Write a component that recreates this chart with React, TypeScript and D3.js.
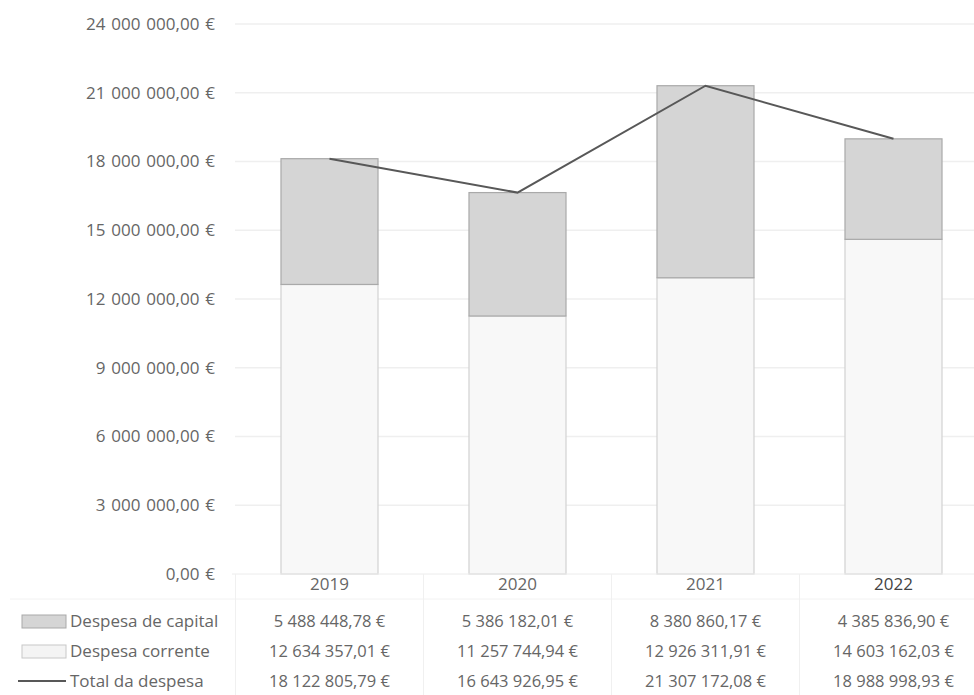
import React from 'react';
import * as d3 from 'd3';

const years = ['2019', '2020', '2021', '2022'];
const capital = [5488448.78, 5386182.01, 8380860.17, 4385836.9];
const corrente = [12634357.01, 11257744.94, 12926311.91, 14603162.03];
const total = [18122805.79, 16643926.95, 21307172.08, 18988998.93];
const yTicks = [0, 3000000, 6000000, 9000000, 12000000, 15000000, 18000000, 21000000, 24000000];
const seriesNames = ['Despesa de capital', 'Despesa corrente', 'Total da despesa'];

const W = 974;
const H = 695;
const FONT = "'Open Sans', 'Noto Sans', sans-serif";
const TXT = '#666666';

const locale = d3.formatLocale({ decimal: ',', thousands: ' ', grouping: [3], currency: ['', ' €'] });
const fmt = (v: number) => locale.format(',.2f')(v) + ' €';

export default function App() {
  const y = d3.scaleLinear().domain([0, 24000000]).range([574, 24]);
  const x = d3.scaleBand<string>().domain(years).range([235.5, 987.5]).paddingInner(0.484).paddingOuter(0.242);
  const step = x.step();
  const cx = (i: number) => (x(years[i]) as number) + x.bandwidth() / 2;
  const line = d3
    .line<number>()
    .x((_, i) => cx(i))
    .y((d) => y(d));

  const rowY = [621, 651, 681];
  const rows = [capital, corrente, total];
  const colLeft = (i: number) => cx(i) - step / 2;

  return (
    <svg width={W} height={H} style={{ position: 'absolute', left: 0, top: 0, background: '#fff' }}>
      <rect x={0} y={0} width={W} height={H} fill="#fff" />
      {/* gridlines */}
      {yTicks.slice(1).map((t) => (
        <line key={t} x1={235} x2={W} y1={y(t)} y2={y(t)} stroke="#efefef" strokeWidth={1.5} />
      ))}
      {/* y labels */}
      {yTicks.map((t) => (
        <text
          key={'l' + t}
          x={215}
          y={y(t)}
          dy="0.35em"
          textAnchor="end"
          fontFamily={FONT}
          fontSize={17}
          fill={TXT}
          style={{ wordSpacing: '1.5px' }}
        >
          {fmt(t)}
        </text>
      ))}
      {/* bars */}
      {years.map((yr, i) => (
        <g key={yr}>
          <rect
            x={x(yr)}
            y={y(corrente[i])}
            width={x.bandwidth()}
            height={y(0) - y(corrente[i])}
            fill="#f8f8f8"
            stroke="#d2d2d2"
            strokeWidth={1.2}
          />
          <rect
            x={x(yr)}
            y={y(corrente[i] + capital[i])}
            width={x.bandwidth()}
            height={y(corrente[i]) - y(corrente[i] + capital[i])}
            fill="#d5d5d5"
            stroke="#a9a9a9"
            strokeWidth={1.2}
          />
        </g>
      ))}
      {/* total line */}
      <path d={line(total) || ''} fill="none" stroke="#585858" strokeWidth={2} />
      {/* table lines */}
      <line x1={232} x2={W} y1={574} y2={574} stroke="#ececec" />
      <line x1={10} x2={W} y1={599} y2={599} stroke="#f2f2f2" />
      {years.map((yr, i) => (
        <line key={'v' + yr} x1={colLeft(i)} x2={colLeft(i)} y1={574} y2={695} stroke="#f0f0f0" />
      ))}
      {/* category labels */}
      {years.map((yr, i) => (
        <text
          key={'c' + yr}
          x={cx(i)}
          y={584}
          dy="0.35em"
          textAnchor="middle"
          fontFamily={FONT}
          fontSize={17}
          fill={i === 3 ? '#444' : TXT}
        >
          {yr}
        </text>
      ))}
      {/* legend keys */}
      <rect x={22} y={615} width={44} height={13} fill="#d5d5d5" stroke="#a9a9a9" />
      <rect x={22} y={645} width={44} height={13} fill="#f4f4f4" stroke="#c8c8c8" />
      <line x1={18} x2={66} y1={681} y2={681} stroke="#585858" strokeWidth={2} />
      {seriesNames.map((n, r) => (
        <text key={n} x={70} y={rowY[r]} dy="0.35em" fontFamily={FONT} fontSize={17} fill={TXT}>
          {n}
        </text>
      ))}
      {/* table values */}
      {rows.map((vals, r) =>
        vals.map((v, i) => (
          <text
            key={r + '-' + i}
            x={cx(i)}
            y={rowY[r]}
            dy="0.35em"
            textAnchor="middle"
            fontFamily={FONT}
            fontSize={16.5}
            fill={TXT}
          >
            {fmt(v)}
          </text>
        ))
      )}
    </svg>
  );
}
